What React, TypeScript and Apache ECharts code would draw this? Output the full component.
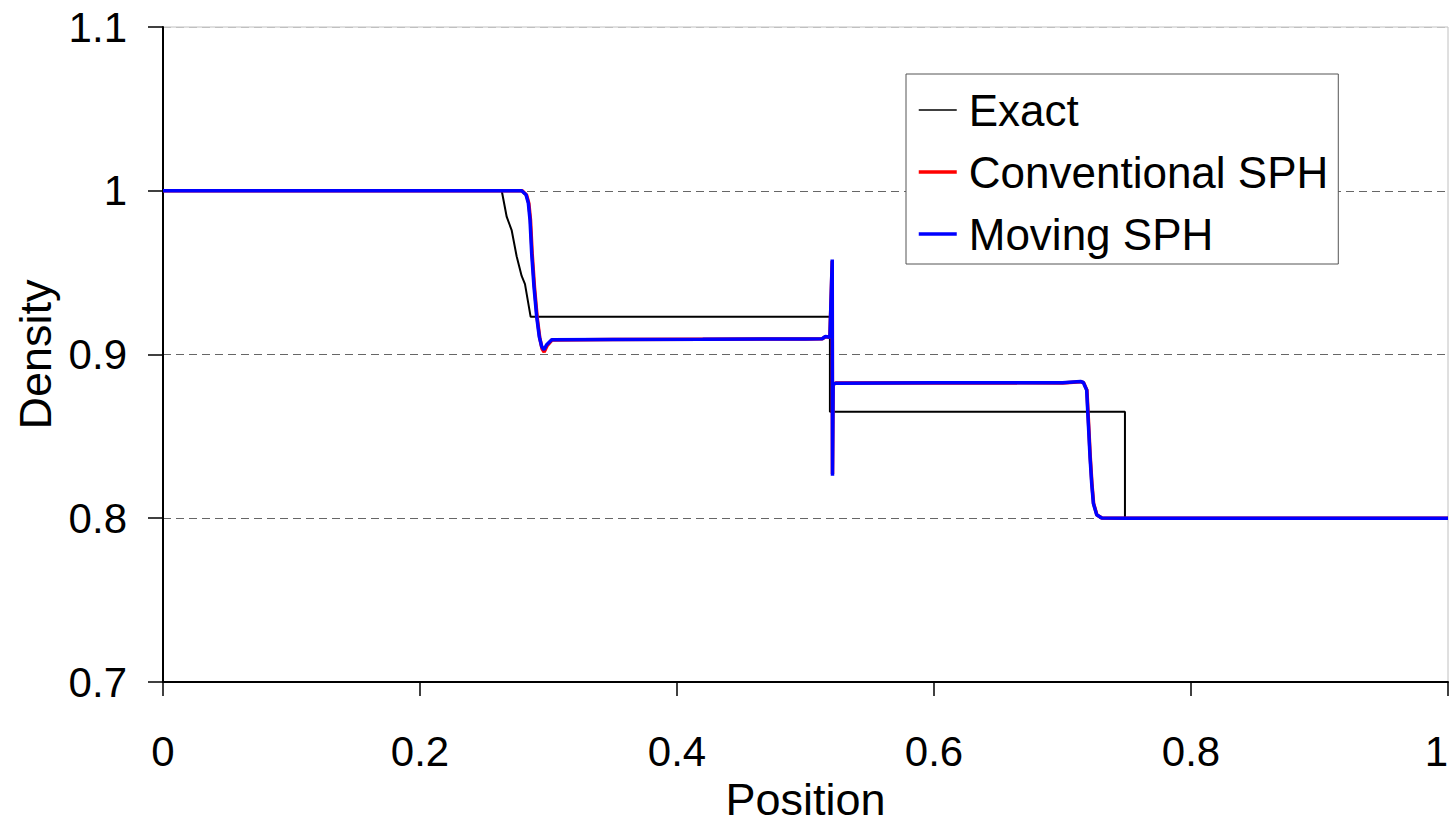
import React, { useEffect, useRef } from "react";
import * as echarts from "echarts";

const xTicks = [0, 0.2, 0.4, 0.6, 0.8, 1];
const yTicks = [0.7, 0.8, 0.9, 1, 1.1];

const exactData: [number, number][] = [
  [0, 1], [0.2636, 1], [0.2675, 0.984], [0.2713, 0.976], [0.2752, 0.96],
  [0.2791, 0.948], [0.2817, 0.943], [0.2861, 0.923], [0.519, 0.923],
  [0.519, 0.865], [0.7486, 0.865], [0.7486, 0.8], [1, 0.8],
];

const conventionalData: [number, number][] = [
  [0, 1], [0.2795, 1], [0.2829, 0.9974], [0.2847, 0.9922], [0.286, 0.982],
  [0.2873, 0.9615], [0.2891, 0.941], [0.2912, 0.9225], [0.2932, 0.9102],
  [0.295, 0.9035], [0.2966, 0.9015], [0.2988, 0.9052], [0.3027, 0.9088],
  [0.35, 0.9091], [0.42, 0.9093], [0.5, 0.9095], [0.513, 0.9096], [0.5155, 0.9108],
  [0.519, 0.9105], [0.5208, 0.957], [0.521, 0.827], [0.5215, 0.8818],
  [0.524, 0.8826], [0.6, 0.8828], [0.7, 0.8826], [0.714, 0.8834],
  [0.7164, 0.8828], [0.719, 0.8782], [0.7203, 0.8578], [0.7216, 0.8375],
  [0.7229, 0.8212], [0.7242, 0.809], [0.7268, 0.802], [0.7307, 0.8001],
  [0.75, 0.8], [1, 0.8],
];

const movingData: [number, number][] = [
  [0, 1], [0.2791, 1], [0.2825, 0.9976], [0.2843, 0.9925], [0.2856, 0.9823],
  [0.2869, 0.9619], [0.2887, 0.9415], [0.2908, 0.9232], [0.2928, 0.911],
  [0.2947, 0.9049], [0.2965, 0.9029], [0.2986, 0.906], [0.3025, 0.909],
  [0.35, 0.9092], [0.42, 0.9093], [0.5, 0.9095], [0.513, 0.9096], [0.5155, 0.911],
  [0.519, 0.9105], [0.5208, 0.958], [0.521, 0.826], [0.5215, 0.882],
  [0.524, 0.8825], [0.6, 0.8828], [0.7, 0.8827], [0.714, 0.8835],
  [0.7162, 0.8829], [0.7188, 0.8784], [0.7201, 0.858], [0.7214, 0.8377],
  [0.7227, 0.8215], [0.724, 0.8092], [0.7266, 0.8021], [0.7305, 0.8001],
  [0.75, 0.8], [1, 0.8],
];

const FONT = "'Liberation Sans', Arial, Helvetica, sans-serif";

export default function App() {
  const ref = useRef<HTMLDivElement>(null);
  useEffect(() => {
    if (!ref.current) return;
    const chart = echarts.init(ref.current, undefined, { renderer: "svg" });
    chart.setOption({
      animation: false,
      backgroundColor: "#ffffff",
      textStyle: { fontFamily: FONT },
      grid: {
        left: 163, right: 7, top: 27, bottom: 151,
        outerBoundsMode: "none",
        containLabel: false,
        show: true, borderColor: "#c0c0c0", borderWidth: 1,
      },
      legend: {
        orient: "vertical",
        left: 906, top: 74,
        padding: [14, 10, 8, 11],
        itemGap: 18,
        itemWidth: 38, itemHeight: 3,
        itemStyle: { opacity: 0 },
        backgroundColor: "#ffffff",
        borderColor: "#555555", borderWidth: 1,
        textStyle: { fontSize: 44, color: "#000", fontFamily: FONT, lineHeight: 44, padding: [0, 0, 0, 7] },
        data: [
          { name: "Exact", lineStyle: { width: 1.5 } },
          { name: "Conventional SPH", lineStyle: { width: 3.5 } },
          { name: "Moving SPH", lineStyle: { width: 3.5 } },
        ],
      },
      xAxis: {
        type: "value",
        min: xTicks[0], max: xTicks[xTicks.length - 1], interval: 0.2,
        name: "Position", nameLocation: "middle", nameGap: 95,
        nameTextStyle: { fontSize: 45, color: "#000", fontFamily: FONT },
        axisLine: { onZero: false, lineStyle: { color: "#000", width: 2 } },
        axisTick: { show: true, inside: false, length: 14, lineStyle: { color: "#000", width: 1.5 } },
        axisLabel: {
          fontSize: 42, color: "#000", margin: 48, fontFamily: FONT,
          alignMaxLabel: "right",
        },
        splitLine: { show: false },
      },
      yAxis: {
        type: "value",
        min: yTicks[0], max: yTicks[yTicks.length - 1], interval: 0.1,
        name: "Density", nameLocation: "middle", nameGap: 100,
        nameTextStyle: { fontSize: 45, color: "#000", fontFamily: FONT },
        axisLine: { show: true, onZero: false, lineStyle: { color: "#000", width: 2 } },
        axisTick: { show: true, inside: false, length: 15, lineStyle: { color: "#000", width: 1.5 } },
        axisLabel: { fontSize: 42, color: "#000", margin: 36, fontFamily: FONT },
        splitLine: {
          show: true,
          lineStyle: { color: ["#666", "#666", "#666", "#666", "#c0c0c0"], type: [8, 5], width: 1 },
        },
      },
      series: [
        {
          name: "Exact", type: "line", data: exactData, symbol: "none", showSymbol: false,
          lineStyle: { color: "#000", width: 2 }, itemStyle: { color: "#000" },
        },
        {
          name: "Conventional SPH", type: "line", data: conventionalData, symbol: "none", showSymbol: false,
          lineStyle: { color: "#ff0000", width: 3.5 }, itemStyle: { color: "#ff0000" },
        },
        {
          name: "Moving SPH", type: "line", data: movingData, symbol: "none", showSymbol: false,
          lineStyle: { color: "#0000ff", width: 3.5 }, itemStyle: { color: "#0000ff" },
        },
      ],
    });
    return () => chart.dispose();
  }, []);
  return (
    <div
      ref={ref}
      style={{ position: "fixed", left: 0, top: 0, width: 1455, height: 833, background: "#fff" }}
    />
  );
}
